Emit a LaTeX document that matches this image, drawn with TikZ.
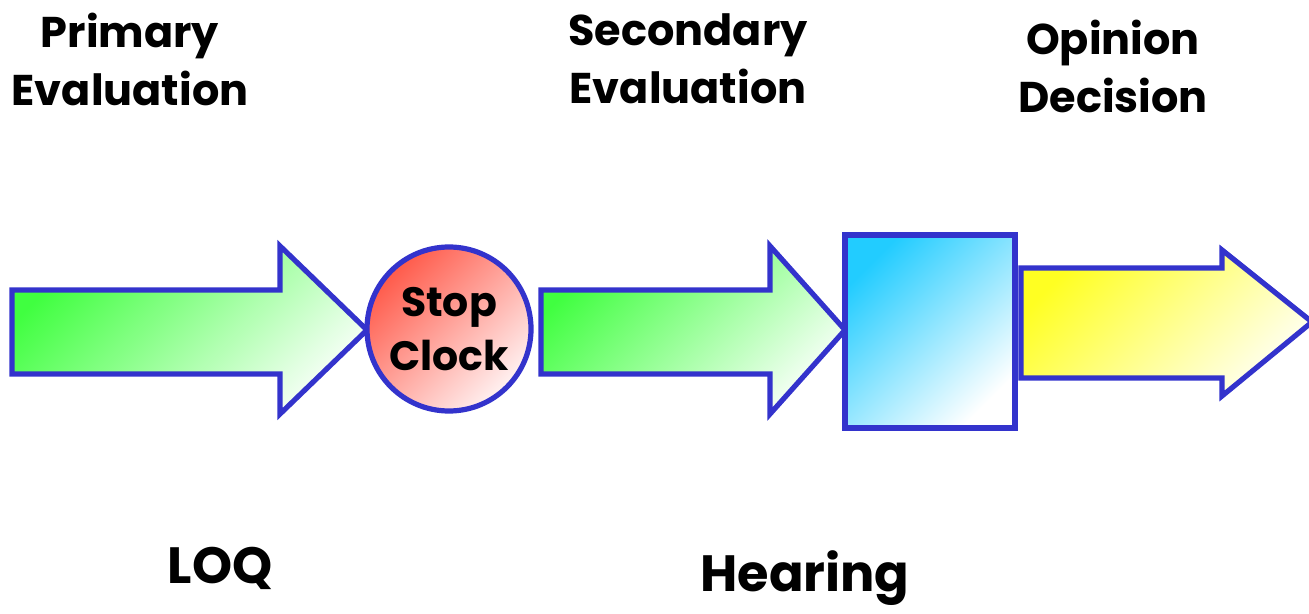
\documentclass[tikz,border=0pt]{standalone}
\usepackage{fontspec}
\setmainfont{Poppins}
\begin{document}
\begin{tikzpicture}[x=0.5pt,y=-0.5pt,
  outline/.style={draw=edgeblue,line width=2.6pt,line join=miter},
  greenfill/.style={outline,shading=axis,top color=gfrom,bottom color=gto,shading angle=45},
  label/.style={font=\fontsize{21.5}{29}\selectfont\bfseries,align=center,inner sep=0pt},
  biglabel/.style={font=\fontsize{25.5}{30}\selectfont\bfseries,inner sep=0pt}]
\definecolor{edgeblue}{HTML}{3333CC}
\definecolor{gfrom}{HTML}{40FF40}
\definecolor{gto}{HTML}{F6FFF6}
\definecolor{rfrom}{HTML}{FF5A4A}
\definecolor{rto}{HTML}{FFF2F2}
\definecolor{bfrom}{HTML}{22CCFF}
\definecolor{bto}{HTML}{FFFFFF}
\definecolor{yfrom}{HTML}{FFFF22}
\definecolor{yto}{HTML}{FFFFF2}
\useasboundingbox (0,0) rectangle (1309,614);

% first arrow: primary evaluation
\draw[greenfill] (12,290) -- (280,290) -- (280,246) -- (367,330)
  -- (280,414) -- (280,374) -- (12,374) -- cycle;

% stop-clock disc
\node[outline,circle,minimum size=82pt,inner sep=0pt,
  shading=axis,top color=rfrom,bottom color=rto,shading angle=45] (clock) at (449,329) {};
\node[label,font=\fontsize{20.5}{27}\selectfont\bfseries] (stop) at (clock.center) {Stop\\Clock};

% second arrow: secondary evaluation
\draw[greenfill] (541,290) -- (770,290) -- (770,246) -- (845,330)
  -- (770,414) -- (770,374) -- (541,374) -- cycle;

% hearing box
\draw[outline,shading=axis,top color=bfrom,bottom color=bto,shading angle=45]
  (845,235) rectangle (1015,428);

% third arrow: opinion decision
\draw[outline,shading=axis,top color=yfrom,bottom color=yto,shading angle=45]
  (1021,268) -- (1222,268) -- (1222,250) -- (1312,322)
  -- (1222,396) -- (1222,378) -- (1021,378) -- cycle;

% stage headings
\node[label] (primary) at (130,59) {Primary\\Evaluation};
\node[label] (secondary) at (688,59) {Secondary\\Evaluation};
\node[label] (opinion) at (1113,66) {Opinion\\Decision};

% bottom captions
\node[biglabel] (loq) at (220,568) {LOQ};
\node[biglabel] (hearing) at (805,578) {Hearing};
\end{tikzpicture}
\end{document}
